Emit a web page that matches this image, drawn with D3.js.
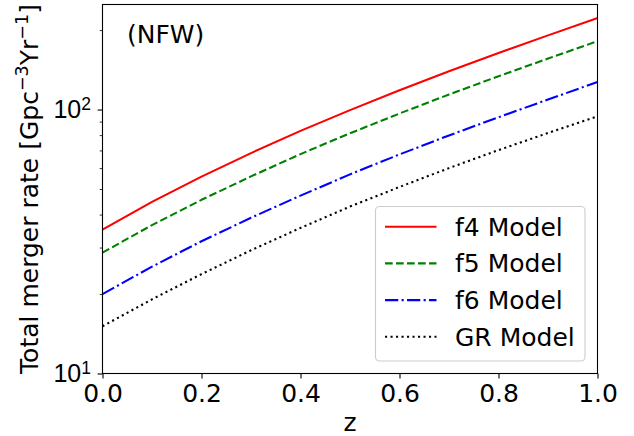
<!DOCTYPE html>
<html>
<head>
<meta charset="utf-8">
<script src="https://cdn.jsdelivr.net/npm/d3@7"></script>
<style>
  html, body { margin: 0; padding: 0; background: #fff; }
  svg { display: block; font-family: "DejaVu Sans", sans-serif; }
</style>
</head>
<body>
<svg id="chart" width="634" height="436"></svg>
<script>
// Redshift grid
const redshift = [0.0, 0.1, 0.2, 0.3, 0.4, 0.5, 0.6, 0.7, 0.8, 0.9, 1.0];

// Total merger rate [Gpc^-3 Yr^-1] for each model
const f4Rate = [35.1, 44.7, 55.7, 68.4, 83.0, 99.5, 118.3, 139.6, 163.7, 191.0, 222.3];
const f5Rate = [28.7, 36.5, 45.5, 55.8, 67.8, 81.3, 96.6, 114.0, 133.7, 156.0, 181.5];
const f6Rate = [20.0, 25.4, 31.7, 38.9, 47.2, 56.8, 67.6, 79.8, 93.5, 109.1, 127.2];
const grRate = [15.1, 19.1, 23.8, 29.3, 35.6, 42.9, 50.9, 60.0, 70.2, 81.5, 94.3];

const seriesNames = ["f4 Model", "f5 Model", "f6 Model", "GR Model"];

// Axis ticks
const xTicks = [0.0, 0.2, 0.4, 0.6, 0.8, 1.0];
const xTickLabels = ["0.0", "0.2", "0.4", "0.6", "0.8", "1.0"];
const yMajorTicks = [10, 100];
const yMajorExp = ["1", "2"];
const yMinorTicks = [20, 30, 40, 50, 60, 70, 80, 90, 200];

const series = [
  { name: seriesNames[0], values: f4Rate, color: "#ff0000", dash: null },
  { name: seriesNames[1], values: f5Rate, color: "#008000", dash: "7.7,3.3" },
  { name: seriesNames[2], values: f6Rate, color: "#0000ff", dash: "13.3,3.3,2.1,3.3" },
  { name: seriesNames[3], values: grRate, color: "#000000", dash: "2.1,3.4" }
];

const svg = d3.select("#chart");
const FS = 25;
const SUP = 17.5;

const plot = { left: 102.5, right: 597.5, top: 4.5, bottom: 373.5 };

const x = d3.scaleLinear().domain([0, 1]).range([plot.left, plot.right]);
const y = d3.scaleLog().domain([10, 250]).range([plot.bottom, plot.top]);

// Curves
const line = d3.line().x(d => x(d[0])).y(d => y(d[1]));
svg.append("clipPath").attr("id", "plotclip")
  .append("rect")
  .attr("x", plot.left).attr("y", plot.top)
  .attr("width", plot.right - plot.left).attr("height", plot.bottom - plot.top);

const curves = svg.append("g").attr("clip-path", "url(#plotclip)");
series.forEach(s => {
  curves.append("path")
    .datum(redshift.map((z, i) => [z, s.values[i]]))
    .attr("d", line)
    .attr("fill", "none")
    .attr("stroke", s.color)
    .attr("stroke-width", 2.08)
    .attr("stroke-linejoin", "round")
    .attr("stroke-dasharray", s.dash)
    .attr("stroke-linecap", s.dash ? "butt" : "square");
});

// X axis
const xAxis = d3.axisBottom(x).tickValues(xTicks)
  .tickFormat((d, i) => xTickLabels[i])
  .tickSize(4.9).tickPadding(6);
const gx = svg.append("g").attr("transform", `translate(0,${plot.bottom})`).call(xAxis);
gx.select(".domain").remove();
gx.selectAll(".tick line").attr("stroke", "#000").attr("stroke-width", 1.1);
gx.selectAll(".tick text").attr("font-size", FS).attr("fill", "#000")
  .attr("font-family", "DejaVu Sans").attr("dy", null).attr("y", 28.8);

// Y axis (log): minor ticks, then major ticks with power-of-ten labels
const gyMinor = svg.append("g").attr("transform", `translate(${plot.left},0)`)
  .call(d3.axisLeft(y).tickValues(yMinorTicks).tickSize(2.8).tickFormat(""));
gyMinor.select(".domain").remove();
gyMinor.selectAll(".tick line").attr("stroke", "#000").attr("stroke-width", 0.8);

const gy = svg.append("g").attr("transform", `translate(${plot.left},0)`)
  .call(d3.axisLeft(y).tickValues(yMajorTicks).tickSize(4.9).tickFormat(""));
gy.select(".domain").remove();
gy.selectAll(".tick line").attr("stroke", "#000").attr("stroke-width", 1.1);
gy.selectAll(".tick").each(function (d, i) {
  const t = d3.select(this).append("text")
    .attr("x", -11.5).attr("y", 8.3)
    .attr("text-anchor", "end")
    .attr("font-size", FS).attr("fill", "#000");
  t.append("tspan").text("10");
  t.append("tspan").attr("font-size", SUP).attr("dy", -8.8).text(yMajorExp[i]);
});

// Frame
svg.append("rect")
  .attr("x", plot.left).attr("y", plot.top)
  .attr("width", plot.right - plot.left).attr("height", plot.bottom - plot.top)
  .attr("fill", "none").attr("stroke", "#000").attr("stroke-width", 1.1);

// Axis titles
svg.append("text")
  .attr("x", (plot.left + plot.right) / 2).attr("y", 431)
  .attr("text-anchor", "middle").attr("font-size", FS).text("z");

const yl = svg.append("text")
  .attr("transform", `translate(38,${(plot.top + plot.bottom) / 2}) rotate(-90)`)
  .attr("text-anchor", "middle").attr("font-size", FS);
yl.append("tspan").text("Total merger rate [Gpc");
yl.append("tspan").attr("font-size", SUP).attr("dy", -10).text("\u22123");
yl.append("tspan").attr("dy", 10).text("Yr");
yl.append("tspan").attr("font-size", SUP).attr("dy", -10).text("\u22121");
yl.append("tspan").attr("dy", 10).text("]");

// Panel annotation
svg.append("text").attr("x", 127).attr("y", 43)
  .attr("font-size", FS).text("(NFW)");

// Legend
const lg = svg.append("g");
lg.append("rect")
  .attr("x", 375.5).attr("y", 206.5).attr("width", 209.5).attr("height", 154.5)
  .attr("rx", 4).attr("ry", 4)
  .attr("fill", "#fff").attr("fill-opacity", 0.8)
  .attr("stroke", "#cccccc").attr("stroke-width", 1.1);
series.forEach((s, i) => {
  const cy = 226.7 + i * 36.7;
  lg.append("line")
    .attr("x1", 385).attr("x2", 436.5).attr("y1", cy).attr("y2", cy)
    .attr("stroke", s.color).attr("stroke-width", 2.08)
    .attr("stroke-dasharray", s.dash);
  lg.append("text").attr("x", 455).attr("y", cy + 9)
    .attr("font-size", FS).text(s.name);
});
</script>
</body>
</html>
